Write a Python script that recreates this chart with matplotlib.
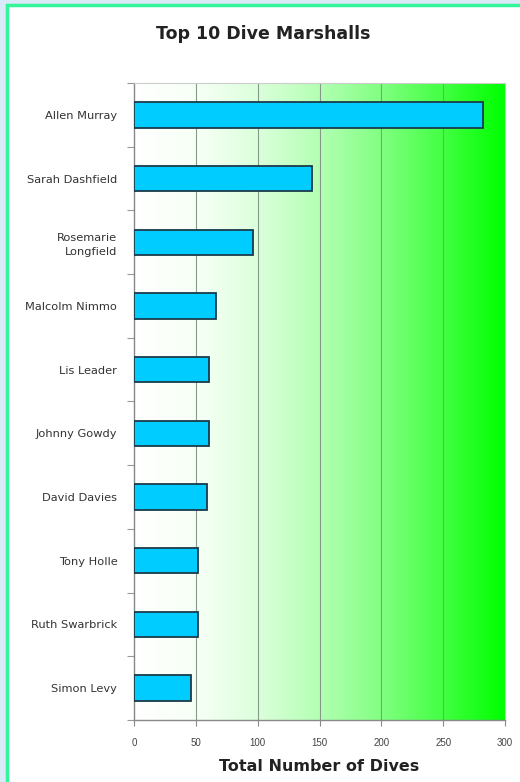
import matplotlib
matplotlib.use("Agg")
import matplotlib.pyplot as plt
import numpy as np
from matplotlib.colors import LinearSegmentedColormap
from matplotlib.patches import Rectangle

names = ["Allen Murray", "Sarah Dashfield", "Rosemarie\nLongfield", "Malcolm Nimmo",
         "Lis Leader", "Johnny Gowdy", "David Davies", "Tony Holle",
         "Ruth Swarbrick", "Simon Levy"]
dives = [282, 144, 96, 66, 61, 61, 59, 52, 52, 46]
xticks = [0, 50, 100, 150, 200, 250, 300]

plt.rcParams['font.family'] = ['DejaVu Sans']

fig = plt.figure(figsize=(5.2, 7.82), dpi=100)
fig.patch.set_facecolor("#DAEAF8")
# white panel with green border
fig.patches.append(Rectangle((7/520, -0.1), 1.2, 1 - 5/782 + 0.1, transform=fig.transFigure,
                             facecolor="white", edgecolor="#33F59A", linewidth=2.5, zorder=-10))

ax = fig.add_axes([134/520, 1 - 720/782, (505 - 134)/520, (720 - 83)/782])
ax.set_zorder(5)
ax.set_xlim(0, 300)
n = len(names)
ax.set_ylim(n - 0.5, -0.5)

cmap = LinearSegmentedColormap.from_list("g", [(0, "#FFFFFF"), (0.17, "#F6FFF6"), (0.33, "#DCFFDC"),
                                               (0.5, "#B4FFB4"), (0.67, "#80FF80"),
                                               (0.83, "#44FF44"), (1, "#00FF00")])
grad = np.linspace(0, 1, 256).reshape(1, -1)
ax.imshow(grad, cmap=cmap, aspect="auto", extent=[0, 300, n - 0.5, -0.5], zorder=0)

for xv in xticks[1:-1]:
    ax.axvline(xv, color="#86998A", linewidth=0.8, zorder=1)

y = np.arange(n)
ax.barh(y, dives, height=0.4, color="#00CCFF", edgecolor="#1A3A4A", linewidth=1.3, zorder=3)

ax.set_yticks(y)
ax.set_yticklabels(names, fontsize=8.2, color="#333333", linespacing=1.45, fontfamily="DejaVu Sans")
ax.set_yticks(np.arange(n + 1) - 0.5, minor=True)
ax.tick_params(axis="y", which="major", length=0, pad=12)
ax.tick_params(axis="y", which="minor", length=5, color="#999999", width=0.8)
ax.set_xticks(xticks)
ax.set_xticklabels([str(v) for v in xticks], fontsize=7, color="#444444", fontfamily="Liberation Sans")
ax.tick_params(axis="x", length=4, color="#888888", pad=9)
for s in ["top", "right"]:
    ax.spines[s].set_color("#CCCCCC")
    ax.spines[s].set_linewidth(0.8)
for s in ["left", "bottom"]:
    ax.spines[s].set_color("#888888")
    ax.spines[s].set_linewidth(1.0)

ax.set_xlabel("Total Number of Dives", fontsize=11.5, fontweight="bold", color="#222222", labelpad=8)
fig.text(263.5/520, 1 - 34/782, "Top 10 Dive Marshalls", fontsize=12.5, fontweight="bold",
         color="#222222", ha="center", va="center", zorder=10)

fig.savefig("out.png", dpi=100, facecolor=fig.get_facecolor())
